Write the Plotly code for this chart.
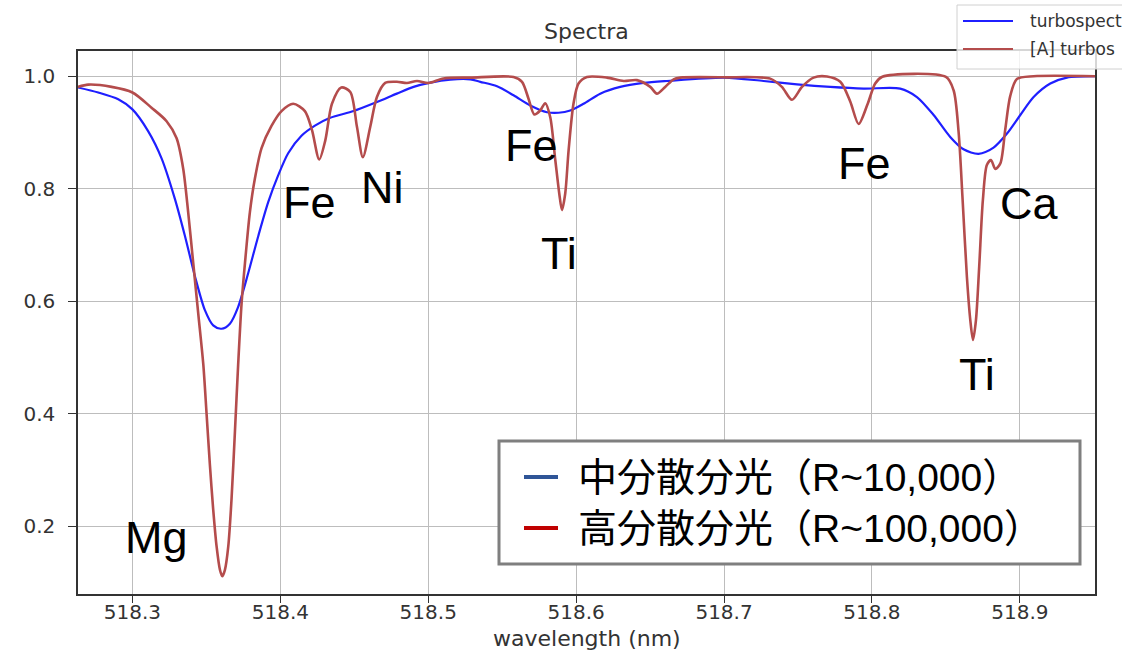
import plotly.graph_objects as go

# ---------------- data ----------------
wl_red = [518.2632, 518.2701, 518.2859, 518.3000, 518.3129, 518.3231, 518.3298, 518.3343,
          518.3377, 518.3411, 518.3445, 518.3479, 518.3501, 518.3524, 518.3546, 518.3569,
          518.3592, 518.3607, 518.3625, 518.3648, 518.3670, 518.3693, 518.3715, 518.3738,
          518.3761, 518.3794, 518.3828, 518.3873, 518.3941, 518.4008, 518.4087, 518.4166,
          518.4214, 518.4263, 518.4304, 518.4349, 518.4412, 518.4473, 518.4518, 518.4558,
          518.4608, 518.4653, 518.4709, 518.4788, 518.4856, 518.4924, 518.5002, 518.5103,
          518.5284, 518.5577, 518.5634, 518.5678, 518.5717, 518.5757, 518.5791, 518.5825,
          518.5859, 518.5886, 518.5904, 518.5926, 518.5949, 518.5982, 518.6016, 518.6073,
          518.6208, 518.6321, 518.6411, 518.6501, 518.6546, 518.6602, 518.6659, 518.6704,
          518.7000, 518.7312, 518.7391, 518.7459, 518.7527, 518.7605, 518.7696, 518.7786,
          518.7853, 518.7910, 518.7970, 518.8022, 518.8070, 518.8500, 518.8552, 518.8586,
          518.8613, 518.8642, 518.8665, 518.8683, 518.8703, 518.8725, 518.8750, 518.8777,
          518.8805, 518.8834, 518.8868, 518.8901, 518.8935, 518.8980, 518.9093, 518.9508]
flux_red = [0.981, 0.985, 0.981, 0.971, 0.944, 0.920, 0.890, 0.836,
            0.758, 0.668, 0.578, 0.488, 0.401, 0.308, 0.230, 0.164,
            0.122, 0.111, 0.122, 0.164, 0.248, 0.368, 0.488, 0.596,
            0.668, 0.758, 0.818, 0.872, 0.912, 0.938, 0.951, 0.938,
            0.904, 0.852, 0.886, 0.951, 0.980, 0.972, 0.910, 0.856,
            0.910, 0.963, 0.988, 0.990, 0.988, 0.9915, 0.988, 0.996,
            0.9975, 0.9986, 0.990, 0.960, 0.932, 0.939, 0.952, 0.927,
            0.851, 0.791, 0.762, 0.791, 0.868, 0.951, 0.987, 0.9986,
            0.9975, 0.9915, 0.993, 0.981, 0.969, 0.981, 0.9945, 0.9975,
            0.998, 0.9957, 0.981, 0.958, 0.981, 0.9975, 0.9995, 0.990,
            0.955, 0.915, 0.950, 0.987, 0.999, 0.9986, 0.975, 0.900,
            0.780, 0.643, 0.566, 0.531, 0.566, 0.661, 0.780, 0.842,
            0.851, 0.835, 0.845, 0.905, 0.965, 0.995, 1.000, 1.000]

wl_blue = [518.2632, 518.2769, 518.2904, 518.3000, 518.3107, 518.3197, 518.3287, 518.3355,
           518.3423, 518.3490, 518.3546, 518.3602, 518.3659, 518.3715, 518.3783, 518.3851,
           518.3918, 518.3986, 518.4053, 518.4143, 518.4234, 518.4337, 518.4495, 518.4653,
           518.4788, 518.4901, 518.5014, 518.5149, 518.5284, 518.5352, 518.5465, 518.5577,
           518.5690, 518.5803, 518.5881, 518.5960, 518.6050, 518.6163, 518.6298, 518.6456,
           518.6614, 518.7000, 518.7267, 518.7493, 518.7718, 518.7943, 518.8191, 518.8304,
           518.8417, 518.8529, 518.8619, 518.8721, 518.8822, 518.8913, 518.9003, 518.9093,
           518.9206, 518.9318, 518.9508]
flux_blue = [0.980, 0.971, 0.959, 0.941, 0.902, 0.854, 0.782, 0.716,
             0.644, 0.584, 0.557, 0.551, 0.560, 0.590, 0.650, 0.716,
             0.776, 0.824, 0.863, 0.894, 0.912, 0.926, 0.938, 0.954,
             0.969, 0.981, 0.9886, 0.994, 0.9945, 0.990, 0.982, 0.966,
             0.948, 0.936, 0.935, 0.939, 0.951, 0.969, 0.981, 0.988,
             0.9915, 0.9975, 0.9915, 0.9856, 0.981, 0.978, 0.978, 0.963,
             0.931, 0.892, 0.870, 0.862, 0.873, 0.898, 0.931, 0.963,
             0.987, 0.9975, 1.000]

x_ticks = [518.3, 518.4, 518.5, 518.6, 518.7, 518.8, 518.9]
x_tick_labels = ["518.3", "518.4", "518.5", "518.6", "518.7", "518.8", "518.9"]
y_ticks = [0.2, 0.4, 0.6, 0.8, 1.0]
y_tick_labels = ["0.2", "0.4", "0.6", "0.8", "1.0"]

line_names = ["Mg", "Fe", "Ni", "Fe", "Ti", "Fe", "Ca", "Ti"]
line_wl = [518.3161, 518.4200, 518.4689, 518.5701, 518.5886, 518.7948, 518.9062, 518.8710]
line_flux = [0.179, 0.776, 0.803, 0.876, 0.684, 0.844, 0.773, 0.470]

# legend texts as visible in the (cropped) reference
mpl_legend_labels = ["turbospect", "[A] turbos"]
jp_names = ["中分散分光", "高分散分光"]
jp_res = ["R~10,000", "R~100,000"]

# ---------------- figure ----------------
W, H = 1122, 654
L, R, T, B = 78, 27, 51, 60
pw, ph = W - L - R, H - T - B


def px(xp):
    return (xp - L) / pw


def py(yp):
    return (H - B - yp) / ph


BLUE = "#1f1fff"
RED = "#b44c4c"
TXT = "#333333"
TICK_FONT = dict(family="DejaVu Sans", size=20, color=TXT)
LABEL_FONT = dict(family="DejaVu Sans", size=22, color=TXT)

fig = go.Figure()
fig.add_trace(go.Scatter(x=wl_blue, y=flux_blue, mode="lines", name="turbospectrum",
                         line=dict(color=BLUE, width=2.2, shape="spline", smoothing=0.8),
                         showlegend=False))
fig.add_trace(go.Scatter(x=wl_red, y=flux_red, mode="lines", name="[A] turbospectrum",
                         line=dict(color=RED, width=2.6, shape="spline", smoothing=0.8),
                         showlegend=False))

axis_common = dict(showgrid=True, gridcolor="#bdbdbd", gridwidth=1,
                   showline=True, linecolor=TXT, linewidth=1.5, mirror=True,
                   ticks="outside", tickcolor=TXT, tickwidth=1.2,
                   zeroline=False, tickfont=TICK_FONT)

fig.update_xaxes(range=[518.2632, 518.9508], tickvals=x_ticks, ticktext=x_tick_labels,
                 ticklen=7, ticklabelstandoff=-8, **axis_common)
fig.update_yaxes(range=[0.0794, 1.0448], tickvals=y_ticks, ticktext=y_tick_labels,
                 ticklen=8, ticklabelstandoff=9, **axis_common)

annotations = []
# title and x label
annotations.append(dict(text="Spectra", xref="paper", yref="paper", x=0.5, y=py(31),
                        xanchor="center", yanchor="middle", showarrow=False,
                        font=LABEL_FONT))
annotations.append(dict(text="wavelength (nm)", xref="paper", yref="paper", x=0.5, y=py(638),
                        xanchor="center", yanchor="middle", showarrow=False,
                        font=LABEL_FONT))

# element labels
for name, xw, yf in zip(line_names, line_wl, line_flux):
    annotations.append(dict(text=name, x=xw, y=yf, xref="x", yref="y", showarrow=False,
                            xanchor="center", yanchor="middle",
                            font=dict(family="Liberation Sans", size=45, color="black")))

shapes = []
# matplotlib legend (top right, cut off by the picture edge)
shapes.append(dict(type="rect", xref="paper", yref="paper", x0=px(957), x1=px(1160),
                   y0=py(69), y1=py(5), line=dict(color="#d0d0d0", width=1),
                   fillcolor="rgba(255,255,255,0.8)", layer="above"))
for yp, c in [(21, BLUE), (49, RED)]:
    shapes.append(dict(type="line", xref="paper", yref="paper", x0=px(963), x1=px(1013),
                       y0=py(yp), y1=py(yp), line=dict(color=c, width=2), layer="above"))
for yp, t in [(21, mpl_legend_labels[0]), (49, mpl_legend_labels[1])]:
    annotations.append(dict(text=t, xref="paper", yref="paper", x=px(1028), y=py(yp),
                            xanchor="left", yanchor="middle", showarrow=False,
                            font=dict(family="DejaVu Sans", size=17, color=TXT)))

# Japanese overlay legend
shapes.append(dict(type="rect", xref="paper", yref="paper", x0=px(499), x1=px(1080),
                   y0=py(564), y1=py(441), line=dict(color="#7f7f7f", width=3),
                   fillcolor="white", layer="above"))
for yp, c in [(477, "#2f5597"), (528, "#c00000")]:
    shapes.append(dict(type="line", xref="paper", yref="paper", x0=px(524), x1=px(558),
                       y0=py(yp), y1=py(yp), line=dict(color=c, width=4), layer="above"))
jp_lines = [nm + "（<span style='font-family:Liberation Sans'>" + rs + "</span>）"
            for nm, rs in zip(jp_names, jp_res)]
annotations.append(dict(text="<br>".join(jp_lines), xref="paper", yref="paper",
                        x=px(576), y=py(499), xanchor="left", yanchor="middle", align="left",
                        showarrow=False,
                        font=dict(family="Noto Sans CJK JP", size=39, color="black")))

fig.update_layout(width=W, height=H, margin=dict(l=L, r=R, t=T, b=B, pad=0),
                  paper_bgcolor="white", plot_bgcolor="white",
                  annotations=annotations, shapes=shapes, showlegend=False)

fig.write_html("out.html")
